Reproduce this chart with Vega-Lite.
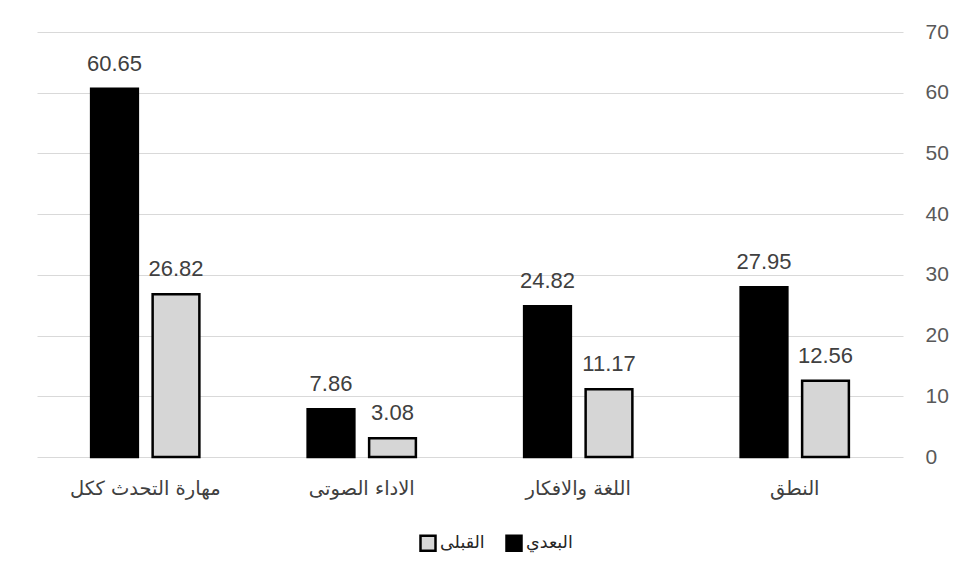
{
  "$schema": "https://vega.github.io/schema/vega-lite/v6.json",
  "width": 866,
  "height": 425,
  "padding": {"left": 37, "top": 21, "right": 0, "bottom": 0},
  "autosize": {"type": "pad"},
  "background": "white",
  "config": {"view": {"stroke": null}},
  "data": {
    "values": [
      {"skill": "مهارة التحدث  ككل", "test": "البعدي", "score": 60.65},
      {"skill": "مهارة التحدث  ككل", "test": "القبلى", "score": 26.82},
      {"skill": "الاداء الصوتى", "test": "البعدي", "score": 7.86},
      {"skill": "الاداء الصوتى", "test": "القبلى", "score": 3.08},
      {"skill": "اللغة والافكار", "test": "البعدي", "score": 24.82},
      {"skill": "اللغة والافكار", "test": "القبلى", "score": 11.17},
      {"skill": "النطق", "test": "البعدي", "score": 27.95},
      {"skill": "النطق", "test": "القبلى", "score": 12.56}
    ]
  },
  "encoding": {
    "x": {
      "field": "skill",
      "type": "nominal",
      "sort": ["مهارة التحدث  ككل", "الاداء الصوتى", "اللغة والافكار", "النطق"],
      "scale": {"paddingInner": 0.5, "paddingOuter": 0.25},
      "axis": {"title": null, "labelAngle": 0, "domain": false, "ticks": false, "grid": false, "labelPadding": 22, "labelFont": "DejaVu Sans", "labelFontSize": 19.5, "labelColor": "#404040"}
    },
    "xOffset": {
      "field": "test",
      "type": "nominal",
      "sort": ["البعدي", "القبلى"],
      "scale": {"paddingInner": 0.24, "paddingOuter": 0}
    },
    "y": {
      "field": "score",
      "type": "quantitative",
      "scale": {"domain": [0, 70]},
      "axis": {"orient": "right", "title": null, "values": [0, 10, 20, 30, 40, 50, 60, 70], "domain": false, "ticks": false, "labelPadding": 22, "gridColor": "#d9d9d9", "gridWidth": 1.2, "labelFont": "Liberation Sans", "labelFontSize": 21, "labelColor": "#595959"}
    }
  },
  "layer": [
    {
      "mark": {"type": "bar", "stroke": "#000000", "strokeWidth": 2.5},
      "encoding": {
        "color": {
          "field": "test",
          "type": "nominal",
          "scale": {"domain": ["القبلى", "البعدي"], "range": ["#d6d6d6", "#000000"]},
          "legend": {
            "title": null,
            "orient": "none",
            "legendX": 382,
            "legendY": 502,
            "direction": "horizontal",
            "symbolType": "square",
            "symbolSize": 225,
            "symbolStrokeColor": "#000000",
            "symbolStrokeWidth": 2.5,
            "labelFont": "DejaVu Sans",
            "labelFontSize": 17.5,
            "labelColor": "#262626",
            "columnPadding": 16,
            "labelOffset": 3
          }
        }
      }
    },
    {
      "mark": {"type": "text", "dy": -25, "baseline": "middle", "font": "Liberation Sans", "fontSize": 22, "color": "#404040"},
      "encoding": {
        "text": {"field": "score", "type": "quantitative", "format": ".2f"}
      }
    }
  ]
}
